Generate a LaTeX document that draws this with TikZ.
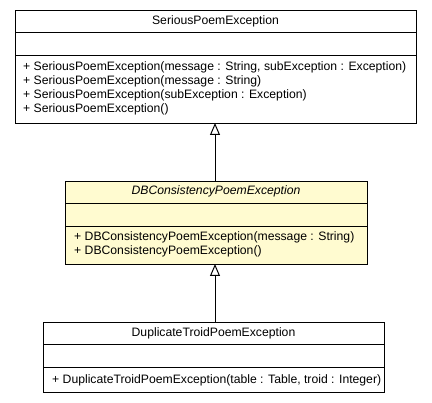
\documentclass[tikz,border=0pt]{standalone}
\usepackage{fontspec}
\setmainfont{Liberation Sans}
\usetikzlibrary{arrows.meta}
\definecolor{abstractfill}{HTML}{FFFBD0}
\tikzset{
  classbox/.style={draw=black, line width=1pt, anchor=north west, inner sep=0pt, fill=white},
  sepline/.style={line width=1pt},
  title/.style={font=\fontsize{12.2}{14}\selectfont, anchor=center, inner sep=0pt},
  member/.style={font=\fontsize{12.2}{14}\selectfont, anchor=west, inner sep=0pt},
  inherit/.style={line width=1pt, -{Triangle[open, width=10pt, length=12pt, line width=1pt]}}
}
\begin{document}
\begin{tikzpicture}[x=1pt, y=-1pt]
\useasboundingbox (0,0) rectangle (432,403);
% Box 1
\node[classbox, minimum width=401pt, minimum height=113pt] (b1) at (15,10) {};
\draw[sepline] (15,33) -- (416,33);
\draw[sepline] (15,56) -- (416,56);
\node[title] (t1) at (215.5,21.5) {SeriousPoemException};
\node[member] (m11) at (23,67) {+ SeriousPoemException(message : String, subException : Exception)};
\node[member] (m12) at (23,81) {+ SeriousPoemException(message : String)};
\node[member] (m13) at (23,95) {+ SeriousPoemException(subException : Exception)};
\node[member] (m14) at (23,109) {+ SeriousPoemException()};
% Box 2
\node[classbox, fill=abstractfill, minimum width=302pt, minimum height=83pt] (b2) at (65,181) {};
\draw[sepline] (65,204) -- (367,204);
\draw[sepline] (65,227) -- (367,227);
\node[title] (t2) at (216,191.5) {\itshape DBConsistencyPoemException};
\node[member] (m21) at (74,237) {+ DBConsistencyPoemException(message : String)};
\node[member] (m22) at (74,251) {+ DBConsistencyPoemException()};
% Box 3
\node[classbox, minimum width=341pt, minimum height=70pt] (b3) at (43,322) {};
\draw[sepline] (43,345) -- (384,345);
\draw[sepline] (43,368) -- (384,368);
\node[title] (t3) at (213.5,333) {DuplicateTroidPoemException};
\node[member] (m31) at (52,380) {+ DuplicateTroidPoemException(table : Table, troid : Integer)};
% Inheritance
\coordinate (a2top) at (215,181);
\coordinate (a1bot) at (215,123);
\coordinate (a3top) at (215,322);
\coordinate (a2bot) at (215,264);
\draw[inherit] (a2top) -- (a1bot);
\draw[inherit] (a3top) -- (a2bot);
\end{tikzpicture}
\end{document}
